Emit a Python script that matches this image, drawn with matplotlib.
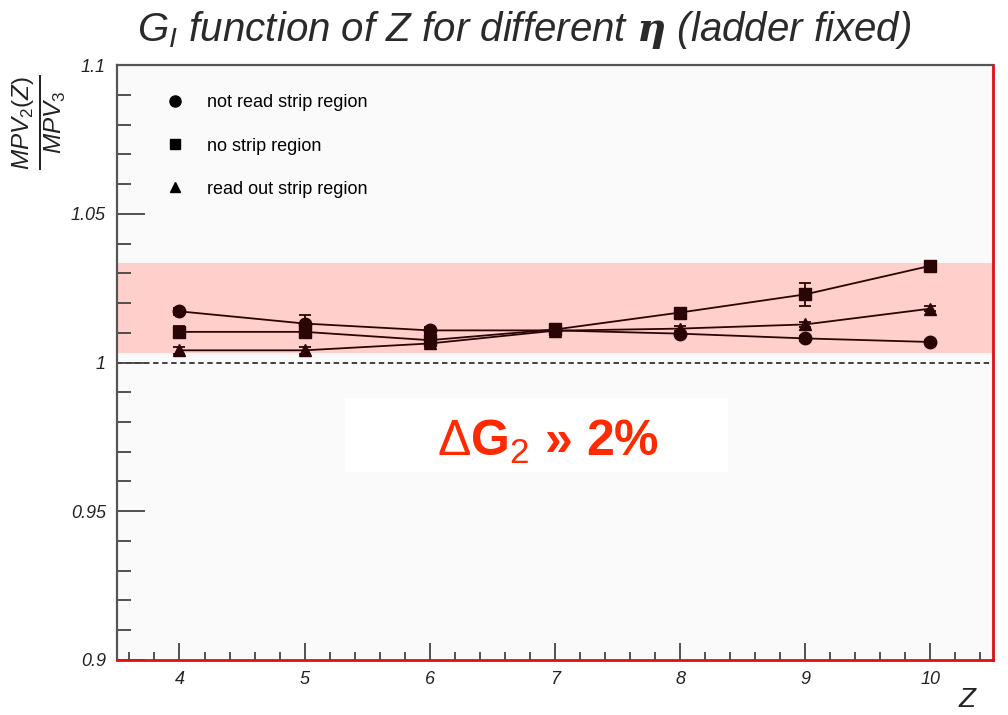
import numpy as np
import matplotlib.pyplot as plt
from matplotlib.lines import Line2D
from matplotlib.patches import Rectangle
from matplotlib.ticker import MultipleLocator

# datos
z = [4, 5, 6, 7, 8, 9, 10]
not_read = [1.0172, 1.0131, 1.0108, 1.0108, 1.0097, 1.0081, 1.0069]
not_read_err = [0.0012, 0.0028, 0.0012, 0.0008, 0.0008, 0.0008, 0.0008]
no_strip = [1.0103, 1.0103, 1.0075, 1.0111, 1.0168, 1.0229, 1.0325]
no_strip_err = [0.0020, 0.0015, 0.0015, 0.0008, 0.0010, 0.0039, 0.0012]
read_out = [1.0041, 1.0041, 1.0064, 1.0107, 1.0114, 1.0128, 1.0181]
read_out_err = [0.0012, 0.0012, 0.0012, 0.0008, 0.0008, 0.0008, 0.0008]
band = (1.0033, 1.0336)

plt.rcParams['font.family'] = ['Liberation Sans', 'DejaVu Sans']
plt.rcParams['mathtext.fontset'] = 'custom'
plt.rcParams['mathtext.rm'] = 'Liberation Sans'
plt.rcParams['mathtext.it'] = 'Liberation Sans:italic'
plt.rcParams['mathtext.bf'] = 'DejaVu Serif:bold:italic'

fig = plt.figure(figsize=(10.08, 7.15), dpi=100)
ax = fig.add_axes([0.116, 0.077, 0.869, 0.832])
ax.set_facecolor('#fafafa')

# banda rosa y linea de referencia
ax.axhspan(band[0], band[1], color='#ffd0cb', zorder=0.5, lw=0)
ax.axhline(1.0, color='#333333', ls=(0, (3, 2)), lw=1.3, zorder=1)

col = '#2a0505'
series = [(not_read, not_read_err, 'o', 9),
          (no_strip, no_strip_err, 's', 8.5),
          (read_out, read_out_err, '^', 8)]
for y, e, m, ms in series:
    ax.errorbar(z, y, yerr=e, fmt='-' + m, color=col, ms=ms, lw=1.3,
                elinewidth=1.3, capsize=4, capthick=1.3, zorder=3)

# leyenda solo con marcadores
handles = [Line2D([], [], ls='none', marker='o', color='black', ms=8),
           Line2D([], [], ls='none', marker='s', color='black', ms=7.5),
           Line2D([], [], ls='none', marker='^', color='black', ms=7)]
labels = ['not read strip region', 'no strip region', 'read out strip region']
ax.legend(handles, labels, loc='upper left', bbox_to_anchor=(0.035, 0.978),
          frameon=False, labelspacing=1.45, handletextpad=1.2,
          handlelength=1.2, prop={'size': 13})

ax.set_xlim(3.5, 10.5)
ax.set_ylim(0.9, 1.1)
ax.xaxis.set_major_locator(MultipleLocator(1))
ax.xaxis.set_minor_locator(MultipleLocator(0.2))
ax.yaxis.set_minor_locator(MultipleLocator(0.01))
ax.set_yticks([0.9, 0.95, 1.0, 1.05, 1.1])
ax.set_yticklabels(['0.9', '0.95', '1', '1.05', '1.1'])
ax.tick_params(axis='y', which='major', direction='in', length=20, width=1.3,
               color='#444444', labelsize=13, pad=8)
ax.tick_params(axis='y', which='minor', direction='in', length=10, width=1.3,
               color='#444444')
ax.tick_params(axis='x', which='major', direction='in', length=12, width=1.3,
               color='#444444', labelsize=13, pad=8)
ax.tick_params(axis='x', which='minor', direction='in', length=6, width=1.3,
               color='#444444')
for lab in ax.get_xticklabels() + ax.get_yticklabels():
    lab.set_fontstyle('italic')
    lab.set_color('#222222')

for s in ['left', 'top']:
    ax.spines[s].set_color('#555555')
    ax.spines[s].set_linewidth(1.6)
for s in ['bottom', 'right']:
    ax.spines[s].set_color('#e01010')
    ax.spines[s].set_linewidth(2)

# etiquetas de ejes
ax.set_ylabel(r'$\frac{MPV_2(Z)}{MPV_3}$', fontsize=25, color='#222222')
ax.yaxis.set_label_coords(-0.056, 0.905)
ax.set_xlabel('Z', fontsize=20, fontstyle='italic', color='#222222')
ax.xaxis.set_label_coords(0.97, -0.045)

# caja blanca y texto rojo
ax.add_patch(Rectangle((0.26, 0.316), 0.4375, 0.124, transform=ax.transAxes,
                       facecolor='white', edgecolor='none', zorder=3.5))
ax.text(0.492, 0.366, r'$\Delta$G$_2$ » 2%', transform=ax.transAxes,
        color='#ff2a00', fontsize=36, fontweight='bold', ha='center', va='center',
        zorder=4)

# titulo
fig.text(0.52, 0.958, r'G$_{I}$ function of Z for different $\mathbf{\eta}$ (ladder fixed)',
         fontsize=29, fontstyle='italic', ha='center', va='center', color='#2a2a2a')

fig.savefig('out.png', dpi=100)
